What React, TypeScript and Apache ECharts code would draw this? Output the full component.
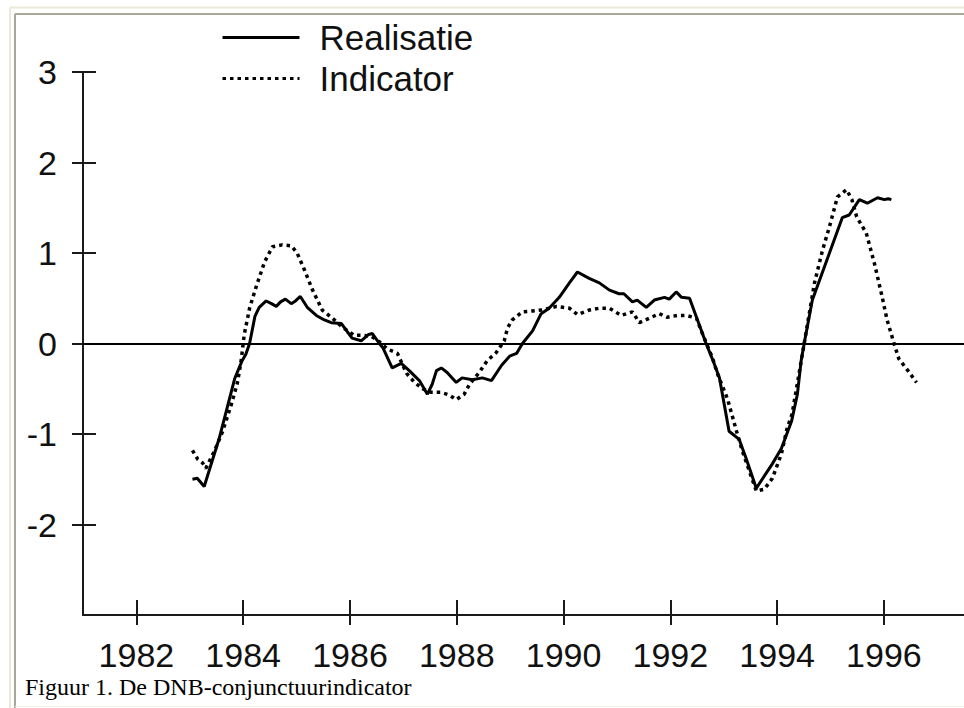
import React, { useEffect, useRef } from "react";
import * as echarts from "echarts";

const seriesNames = ["Realisatie", "Indicator"];
const caption = "Figuur 1. De DNB-conjunctuurindicator";
const yearTicks = [1982, 1984, 1986, 1988, 1990, 1992, 1994, 1996];
const valueTicks = [-2, -1, 0, 1, 2, 3];

const realisatieYears = [
  1983.05, 1983.14, 1983.27, 1983.55, 1983.84, 1983.98, 1984.05, 1984.12, 1984.22, 1984.3,
  1984.43, 1984.53, 1984.62, 1984.7, 1984.79, 1984.9, 1984.98, 1985.07, 1985.2, 1985.37,
  1985.52, 1985.65, 1985.84, 1985.95, 1986.04, 1986.21, 1986.35, 1986.42, 1986.55, 1986.62,
  1986.79, 1986.96, 1987.11, 1987.3, 1987.45, 1987.54, 1987.62, 1987.71, 1987.82, 1987.99,
  1988.1, 1988.29, 1988.48, 1988.65, 1988.84, 1988.99, 1989.12, 1989.23, 1989.42, 1989.58,
  1989.73, 1989.92, 1990.11, 1990.26, 1990.48, 1990.67, 1990.86, 1991.04, 1991.13, 1991.29,
  1991.38, 1991.55, 1991.7, 1991.89, 1991.98, 1992.11, 1992.21, 1992.36, 1992.49, 1992.67,
  1992.82, 1992.92, 1993.1, 1993.29, 1993.42, 1993.61, 1993.91, 1994.08, 1994.27, 1994.38,
  1994.45, 1994.51, 1994.66, 1994.98, 1995.22, 1995.35, 1995.54, 1995.69, 1995.88, 1996.01,
  1996.08, 1996.14,
];
const realisatieValues = [
  -1.5, -1.49, -1.58, -1.05, -0.39, -0.19, -0.12, 0.0, 0.3, 0.4,
  0.47, 0.44, 0.41, 0.46, 0.49, 0.44, 0.47, 0.52, 0.4, 0.31,
  0.26, 0.23, 0.22, 0.13, 0.06, 0.03, 0.1, 0.11, 0.0, -0.05,
  -0.27, -0.22, -0.3, -0.41, -0.56, -0.45, -0.3, -0.27, -0.32, -0.43,
  -0.38, -0.4, -0.38, -0.41, -0.24, -0.14, -0.11, 0.0, 0.14, 0.33,
  0.39, 0.51, 0.67, 0.79, 0.72, 0.67, 0.59, 0.55, 0.55, 0.46,
  0.48, 0.4, 0.48, 0.51, 0.49, 0.57, 0.51, 0.5, 0.29, 0.0,
  -0.22, -0.38, -0.97, -1.06, -1.27, -1.6, -1.33, -1.16, -0.86, -0.56,
  -0.19, 0.01, 0.48, 1.0, 1.39, 1.42, 1.59, 1.55, 1.61, 1.59,
  1.6, 1.59,
];

const indicatorYears = [
  1983.05, 1983.15, 1983.24, 1983.3, 1983.46, 1983.61, 1983.78, 1983.89, 1983.96, 1984.02,
  1984.12, 1984.25, 1984.4, 1984.55, 1984.73, 1984.9, 1985.01, 1985.15, 1985.3, 1985.48,
  1985.67, 1985.86, 1986.08, 1986.23, 1986.4, 1986.55, 1986.7, 1986.89, 1987.06, 1987.21,
  1987.36, 1987.52, 1987.71, 1987.86, 1987.99, 1988.14, 1988.24, 1988.42, 1988.57, 1988.74,
  1988.89, 1988.95, 1989.04, 1989.23, 1989.42, 1989.6, 1989.87, 1990.11, 1990.26, 1990.48,
  1990.67, 1990.86, 1991.08, 1991.29, 1991.42, 1991.61, 1991.79, 1991.94, 1992.13, 1992.3,
  1992.49, 1992.58, 1992.67, 1992.79, 1992.88, 1993.07, 1993.24, 1993.35, 1993.48, 1993.61,
  1993.76, 1993.91, 1994.08, 1994.19, 1994.28, 1994.42, 1994.55, 1994.7, 1994.85, 1994.98,
  1995.13, 1995.3, 1995.4, 1995.49, 1995.67, 1995.82, 1995.95, 1996.06, 1996.19, 1996.28,
  1996.45, 1996.61,
];
const indicatorValues = [
  -1.18, -1.28, -1.32, -1.38, -1.19, -0.98, -0.67, -0.44, -0.2, 0.1,
  0.39, 0.64, 0.9, 1.07, 1.09, 1.08, 1.0, 0.81, 0.59, 0.37,
  0.28, 0.18, 0.09, 0.09, 0.08, 0.02, -0.06, -0.11, -0.33, -0.43,
  -0.5, -0.54, -0.54, -0.57, -0.62, -0.56, -0.45, -0.32, -0.19, -0.1,
  0.03, 0.17, 0.26, 0.35, 0.36, 0.37, 0.41, 0.39, 0.32, 0.37,
  0.39, 0.39, 0.31, 0.35, 0.23, 0.28, 0.33, 0.29, 0.31, 0.31,
  0.28, 0.14, 0.01, -0.16, -0.33, -0.61, -0.97, -1.19, -1.41, -1.63,
  -1.61, -1.49, -1.22, -0.93, -0.78, -0.3, 0.15, 0.67, 1.03, 1.29,
  1.62, 1.7, 1.59, 1.4, 1.22, 0.89, 0.56, 0.26, 0.0, -0.17,
  -0.3, -0.43,
];

const zip = (xs: number[], ys: number[]) => xs.map((x, i) => [x, ys[i]]);

export default function App() {
  const ref = useRef<HTMLDivElement>(null);
  useEffect(() => {
    const chart = echarts.init(ref.current!, null, { renderer: "svg" });
    const font = "'Liberation Sans', Arial, Helvetica, sans-serif";
    const ink = "#111";
    const axisCommon = {
      type: "value",
      min: 1981,
      max: 1997.5,
      position: "bottom",
      splitLine: { show: false },
    };
    const yCommon = {
      type: "value",
      min: -3,
      max: 3,
      position: "left",
      splitLine: { show: false },
    };
    chart.setOption({
      animation: false,
      backgroundColor: "#ffffff",
      grid: { left: 83, right: 0, top: 72, bottom: 93, containLabel: false },
      legend: {
        data: seriesNames,
        orient: "vertical",
        left: 216,
        top: 15,
        itemWidth: 77,
        itemHeight: 14,
        itemGap: 6,
        selectedMode: false,
        itemStyle: { opacity: 0, color: "transparent", borderWidth: 0 },
        lineStyle: { width: 3 },
        textStyle: {
          fontSize: 35,
          fontFamily: font,
          color: ink,
          padding: [0, 0, 0, 15],
        },
      },
      xAxis: [
        {
          ...axisCommon,
          axisLine: { show: true, onZero: false, lineStyle: { color: "#1a1a1a", width: 2 } },
          axisTick: {
            show: true,
            inside: false,
            length: 10,
            customValues: yearTicks,
            lineStyle: { color: "#1a1a1a", width: 2 },
          },
          axisLabel: {
            show: true,
            customValues: yearTicks,
            formatter: (v: number) => String(v),
            fontSize: 34,
            fontFamily: font,
            color: ink,
            margin: 23,
          },
        },
        {
          ...axisCommon,
          axisLine: { show: false, onZero: false },
          axisTick: {
            show: true,
            inside: true,
            length: 15,
            customValues: yearTicks,
            lineStyle: { color: "#1a1a1a", width: 2 },
          },
          axisLabel: { show: false },
        },
      ],
      yAxis: [
        {
          ...yCommon,
          axisLine: { show: true, onZero: false, lineStyle: { color: "#1a1a1a", width: 2 } },
          axisTick: {
            show: true,
            inside: false,
            length: 11,
            customValues: valueTicks,
            lineStyle: { color: "#1a1a1a", width: 2 },
          },
          axisLabel: {
            show: true,
            customValues: valueTicks,
            formatter: (v: number) => String(v),
            fontSize: 34,
            fontFamily: font,
            color: ink,
            margin: 26,
          },
        },
        {
          ...yCommon,
          axisLine: { show: false, onZero: false },
          axisTick: {
            show: true,
            inside: true,
            length: 13,
            customValues: valueTicks,
            lineStyle: { color: "#1a1a1a", width: 2 },
          },
          axisLabel: { show: false },
        },
      ],
      series: [
        {
          name: seriesNames[0],
          type: "line",
          xAxisIndex: 0,
          yAxisIndex: 0,
          data: zip(realisatieYears, realisatieValues),
          symbol: "none",
          showSymbol: false,
          lineStyle: { color: "#000", width: 3, type: "solid" },
          itemStyle: { color: "#000" },
          markLine: {
            silent: true,
            symbol: "none",
            label: { show: false },
            lineStyle: { color: "#000", width: 2, type: "solid" },
            data: [{ yAxis: 0 }],
          },
          z: 3,
        },
        {
          name: seriesNames[1],
          type: "line",
          xAxisIndex: 0,
          yAxisIndex: 0,
          data: zip(indicatorYears, indicatorValues),
          symbol: "none",
          showSymbol: false,
          lineStyle: { color: "#000", width: 3.5, type: [3.5, 4] },
          itemStyle: { color: "#000" },
          z: 2,
        },
      ],
      graphic: [
        {
          type: "line",
          shape: { x1: 10, y1: 7.5, x2: 964, y2: 7.5 },
          style: { stroke: "#ece9d8", lineWidth: 2 },
          silent: true,
        },
        {
          type: "line",
          shape: { x1: 10, y1: 7.5, x2: 10, y2: 708 },
          style: { stroke: "#ece9d8", lineWidth: 2 },
          silent: true,
        },
        {
          type: "line",
          shape: { x1: 15, y1: 14, x2: 964, y2: 14 },
          style: { stroke: "#aca899", lineWidth: 2 },
          silent: true,
        },
        {
          type: "line",
          shape: { x1: 15, y1: 14, x2: 15, y2: 708 },
          style: { stroke: "#aca899", lineWidth: 2 },
          silent: true,
        },
        {
          type: "line",
          shape: { x1: 15, y1: 706.5, x2: 964, y2: 706.5 },
          style: { stroke: "#f1efe6", lineWidth: 1 },
          silent: true,
        },
        {
          type: "text",
          x: 25,
          y: 687,
          style: {
            text: caption,
            font: "24px 'Liberation Serif', 'Times New Roman', Times, serif",
            fill: "#000",
            verticalAlign: "middle",
            align: "left",
          },
          silent: true,
        },
      ],
    });
    return () => chart.dispose();
  }, []);
  return (
    <div
      ref={ref}
      style={{ position: "fixed", left: 0, top: 0, width: 964, height: 708, background: "#fff" }}
    />
  );
}
